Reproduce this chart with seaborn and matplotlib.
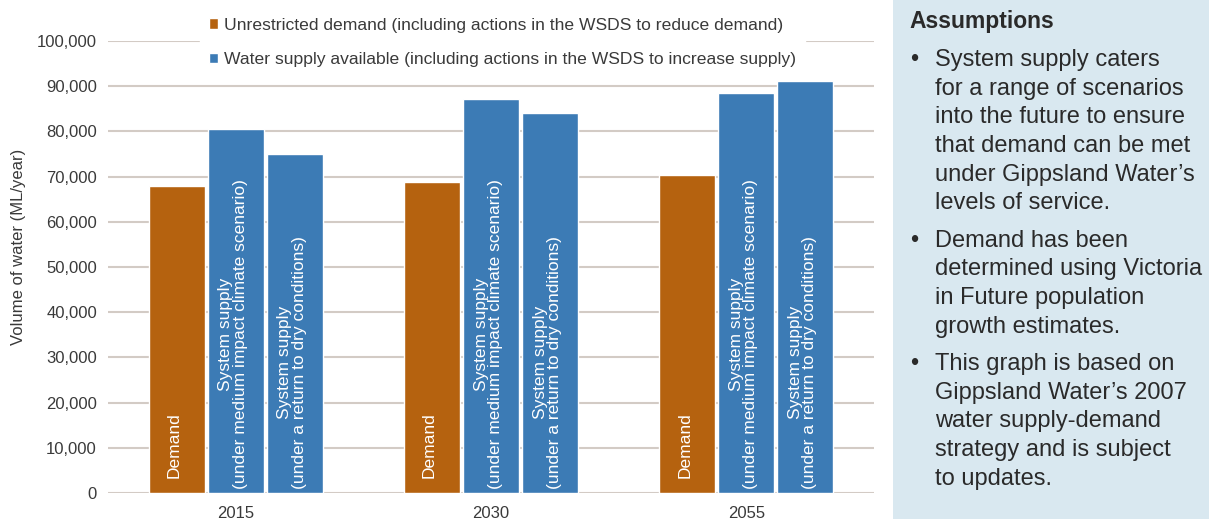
import pandas as pd
import seaborn as sns
import matplotlib.pyplot as plt
from matplotlib.patches import Patch, Rectangle

# Data (ML/year)
years = ["2015", "2030", "2055"]
series = ["Demand", "Supply medium", "Supply dry"]
demand = [68000, 68900, 70300]
supply_medium = [80600, 87100, 88600]
supply_dry = [75000, 84000, 91200]

bar_labels = [
    "Demand",
    "System supply\n(under medium impact climate scenario)",
    "System supply\n(under a return to dry conditions)",
]
legend_labels = [
    "Unrestricted demand (including actions in the WSDS to reduce demand)",
    "Water supply available (including actions in the WSDS to increase supply)",
]
yticks = [0, 10000, 20000, 30000, 40000, 50000, 60000, 70000, 80000, 90000, 100000]

panel_title = "Assumptions"
panel_bullets = [
    ["System supply caters", "for a range of scenarios", "into the future to ensure",
     "that demand can be met", "under Gippsland Water\u2019s", "levels of service."],
    ["Demand has been", "determined using Victoria", "in Future population",
     "growth estimates."],
    ["This graph is based on", "Gippsland Water\u2019s 2007", "water supply-demand",
     "strategy and is subject", "to updates."],
]

orange = "#b5620f"
blue = "#3c7bb5"
grid_c = "#d3cbc5"
text_c = "#3a3a3a"
panel_text_c = "#2a2a2a"

df = pd.DataFrame({
    "year": years * 3,
    "series": [series[0]] * 3 + [series[1]] * 3 + [series[2]] * 3,
    "value": demand + supply_medium + supply_dry,
})

sns.set_style("white")
plt.rcParams["font.family"] = ["Liberation Sans", "DejaVu Sans"]

W, H = 1209, 519
fig = plt.figure(figsize=(W / 100, H / 100), dpi=100)
ax = fig.add_axes([108 / W, (H - 493) / H, 766 / W, 452 / H])

sns.barplot(
    data=df, x="year", y="value", hue="series", hue_order=series,
    palette={series[0]: orange, series[1]: blue, series[2]: blue},
    width=0.693, gap=0.05, saturation=1, legend=False, ax=ax,
)

ax.set_ylim(0, 100000)
ax.set_xlim(-0.5, 2.5)
ax.set_yticks(yticks)
ax.set_yticklabels([f"{v:,}" for v in yticks])
ax.yaxis.grid(True, color=grid_c, linewidth=1.5)
ax.set_axisbelow(True)
for s in ax.spines.values():
    s.set_visible(False)
ax.tick_params(axis="both", length=0, labelsize=12, labelcolor=text_c)
ax.tick_params(axis="y", pad=8)
ax.tick_params(axis="x", pad=9)
ax.set_xlabel("")
ax.set_ylabel("Volume of water (ML/year)", fontsize=12, color=text_c)
ax.yaxis.set_label_coords(-0.107, 0.545)

# white rotated labels inside the bars
offsets = [3300, 900, 900]
for cont, lab, off in zip(ax.containers, bar_labels, offsets):
    for bar in cont:
        ax.text(bar.get_x() + bar.get_width() / 2 - 0.01, off, lab, rotation=90,
                ha="center", va="bottom", color="white", fontsize=12.5,
                linespacing=0.95)

handles = [Patch(facecolor=orange), Patch(facecolor=blue)]
fig.legend(handles, legend_labels, loc="upper left",
           bbox_to_anchor=(200 / W, 1 - 9 / H), fontsize=12.6, frameon=True,
           facecolor="white", edgecolor="white", framealpha=1,
           handlelength=0.55, handleheight=0.55, handletextpad=0.35,
           labelspacing=1.1, borderpad=0.5, borderaxespad=0,
           labelcolor=text_c, fancybox=False)

# side panel
fig.patches.append(Rectangle((893 / W, 0), 1 - 893 / W, 1, transform=fig.transFigure,
                             facecolor="#d9e8f0", edgecolor="none", zorder=0))
fig.text(909 / W, 1 - 22 / H, panel_title, fontsize=16.5, fontweight="bold",
         color=panel_text_c, va="center", ha="left")
y = 60
for para in panel_bullets:
    fig.text(914 / W, 1 - y / H, "\u2022", fontsize=17, color=panel_text_c,
             va="center", ha="center")
    for line in para:
        fig.text(935 / W, 1 - y / H, line, fontsize=17, color=panel_text_c,
                 va="center", ha="left")
        y += 28.7
    y += 8.5

fig.savefig("out.png", dpi=100)
